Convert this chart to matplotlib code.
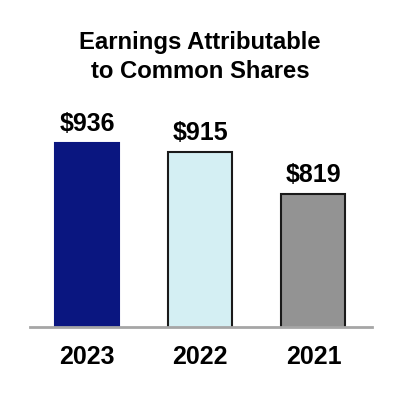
import matplotlib.pyplot as plt

years = ['2023', '2022', '2021']
earnings = [936, 915, 819]
colors = ['#0a1680', '#d4eff3', '#939393']
edges = ['#0a1680', '#1a1a1a', '#1a1a1a']

plt.rcParams['font.family'] = ['Liberation Sans', 'DejaVu Sans']

fig = plt.figure(figsize=(4, 4), dpi=100)
ax = fig.add_axes([0.075, 0.1825, 0.855, 0.5675])

x = range(len(years))
ax.bar(x, earnings, width=0.565, color=colors, edgecolor=edges, linewidth=1.5)
for i, v in enumerate(earnings):
    ax.annotate(f'${v}', (i, v), xytext=(0, 5), textcoords='offset points',
                ha='center', va='bottom', fontsize=18, fontweight='bold')

ax.set_xlim(-0.503, 2.517)
ax.set_ylim(514, 1035)
ax.set_xticks(list(x))
ax.set_xticklabels(years, fontsize=18, fontweight='bold')
ax.tick_params(axis='x', length=0, pad=13)
ax.set_yticks([])
for s in ['top', 'right', 'left']:
    ax.spines[s].set_visible(False)
ax.spines['bottom'].set_color('#a6a6a6')
ax.spines['bottom'].set_linewidth(2)

fig.text(0.5, 0.857, 'Earnings Attributable\nto Common Shares', ha='center', va='center',
         fontsize=17.2, fontweight='bold', linespacing=1.32)

fig.savefig('out.png', dpi=100)
